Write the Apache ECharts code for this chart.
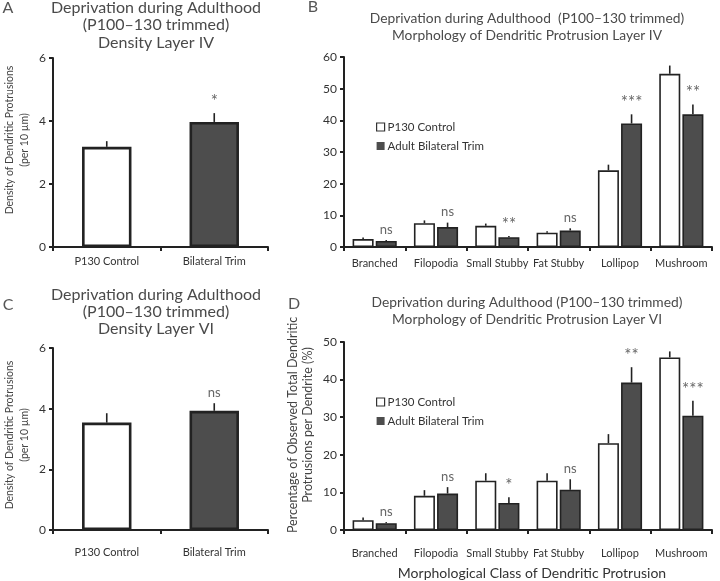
<!DOCTYPE html>
<html>
<head>
<meta charset="utf-8">
<script src="https://cdn.jsdelivr.net/npm/echarts@6/dist/echarts.min.js"></script>
<style>
html,body{margin:0;padding:0;background:#fff;}
#c{width:720px;height:581px;}
</style>
</head>
<body>
<div id="c"></div>
<script>
// ---------- data ----------
const densityCats = ['P130 Control', 'Bilateral Trim'];
const densityIV = [3.18, 3.97];
const densityIVErr = [0.18, 0.28];
const sigDensityIV = ['', '*'];
const densityVI = [3.54, 3.93];
const densityVIErr = [0.31, 0.25];
const sigDensityVI = ['', 'ns'];

const morphCats = ['Branched', 'Filopodia', 'Small Stubby', 'Fat Stubby', 'Lollipop', 'Mushroom'];
const ctrlIV = [2.5, 7.5, 6.7, 4.5, 24.2, 54.7];
const ctrlIVErr = [0.5, 0.9, 0.7, 0.5, 1.8, 2.6];
const trimIV = [1.9, 6.3, 3.1, 5.2, 39.0, 41.9];
const trimIVErr = [0.3, 1.4, 0.4, 0.7, 2.9, 3.1];
const sigIV = ['ns', 'ns', '**', 'ns', '***', '**'];

const ctrlVI = [2.6, 9.1, 13.1, 13.1, 23.1, 45.9];
const ctrlVIErr = [0.7, 1.5, 2.0, 2.0, 2.4, 1.6];
const trimVI = [1.8, 9.7, 7.2, 10.7, 39.2, 30.4];
const trimVIErr = [0.3, 1.7, 1.5, 2.8, 4.1, 4.0];
const sigVI = ['ns', 'ns', '*', 'ns', '**', '***'];

const densityTicks = {min: 0, max: 6, interval: 2};
const morphIVTicks = {min: 0, max: 60, interval: 10};
const morphVITicks = {min: 0, max: 50, interval: 10};

// ---------- styles ----------
const FONT = 'Lato, "Open Sans", sans-serif';
const DARK = '#4d4d4d';
const LINE = '#222';
const TITLE_C = '#4a4a4a';

const chart = echarts.init(document.getElementById('c'), null, {renderer: 'canvas'});

function xAx(gridIndex, data, margin) {
  return {
    type: 'category', gridIndex, data,
    axisLine: {show: true, lineStyle: {color: LINE, width: 2}},
    axisTick: {show: true, length: 4, lineStyle: {color: LINE, width: 2}},
    axisLabel: {fontFamily: FONT, fontSize: 11, color: '#333', margin, interval: 0},
    splitLine: {show: false}
  };
}
function yAx(gridIndex, t) {
  return {
    type: 'value', gridIndex, min: t.min, max: t.max, interval: t.interval,
    axisLine: {show: true, lineStyle: {color: LINE, width: 2}},
    axisTick: {show: true, length: 4, lineStyle: {color: LINE, width: 2}},
    axisLabel: {fontFamily: FONT, fontSize: 12, color: '#333', margin: 7},
    splitLine: {show: false}
  };
}

const GROUP_CAT_GAP = 0.28, GROUP_BAR_GAP = 0.10;
const groupBarFrac = (1 - GROUP_CAT_GAP) / (2 + GROUP_BAR_GAP);

function errSeries(name, idx, values, errs, sigs, offset, barFrac, sigSize) {
  return {
    type: 'custom', name, xAxisIndex: idx, yAxisIndex: idx, z: 5,
    encode: {x: 0, y: 1},
    data: values.map((v, i) => [i, v, errs[i]]),
    renderItem: function (params, api) {
      const i = api.value(0), v = api.value(1), e = api.value(2);
      const sig = sigs[params.dataIndex];
      const band = api.size([1, 0])[0];
      const dx = offset * band * barFrac;
      const p0 = api.coord([i, v]);
      const p1 = api.coord([i, v + e]);
      const children = [{
        type: 'line',
        shape: {x1: p0[0] + dx, y1: p0[1], x2: p1[0] + dx, y2: p1[1]},
        style: {stroke: LINE, lineWidth: 1.6}
      }];
      if (sig) {
        const isStar = sig.indexOf('*') >= 0;
        children.push({
          type: 'text',
          x: p1[0] + dx, y: p1[1] - (isStar ? 3 : 4),
          style: {text: sig, fill: '#666', font: (isStar ? sigSize + 4 : sigSize) + 'px ' + FONT,
                  align: 'center', verticalAlign: 'bottom'}
        });
      }
      return {type: 'group', children};
    }
  };
}

function barSeries(name, idx, values, color, bw, extra) {
  return Object.assign({
    type: 'bar', name, xAxisIndex: idx, yAxisIndex: idx, data: values,
    itemStyle: {color, borderColor: LINE, borderWidth: bw}
  }, extra || {});
}

const legendData = [
  {name: 'P130 Control', itemStyle: {color: '#fff', borderColor: '#333', borderWidth: 1.2}},
  {name: 'Adult Bilateral Trim', itemStyle: {color: DARK, borderColor: DARK, borderWidth: 0}}
];
function legendAt(top) {
  return {
    data: legendData, orient: 'vertical', left: 371, top, itemWidth: 8, itemHeight: 8,
    itemGap: 7, icon: 'rect', selectedMode: false,
    textStyle: {fontFamily: FONT, fontSize: 11.5, color: '#333', padding: [0, 0, 0, -2]}
  };
}

function gtext(x, y, text, size, color, opts) {
  return Object.assign({
    type: 'text', x, y,
    style: {text, fill: color, font: size + 'px ' + FONT, align: 'center', verticalAlign: 'middle',
            lineHeight: (opts && opts.lh) || size * 1.3}
  }, (opts && opts.el) || {});
}

const groupOpts = {barCategoryGap: '28%', barGap: '10%'};

const option = {
  animation: false,
  backgroundColor: '#fff',
  grid: [
    {left: 53, top: 58, width: 215, height: 189},
    {left: 344, top: 57, width: 368, height: 190},
    {left: 53, top: 348, width: 215, height: 182},
    {left: 344, top: 342, width: 368, height: 188}
  ],
  xAxis: [
    xAx(0, densityCats, 9),
    xAx(1, morphCats, 11),
    xAx(2, densityCats, 17),
    xAx(3, morphCats, 18)
  ],
  yAxis: [
    yAx(0, densityTicks),
    yAx(1, morphIVTicks),
    yAx(2, densityTicks),
    yAx(3, morphVITicks)
  ],
  legend: [legendAt(116), legendAt(391)],
  series: [
    barSeries('Density IV', 0, densityIV, p => p.dataIndex === 0 ? '#fff' : DARK, 2.6, {barWidth: '46%'}),
    errSeries('Density IV err', 0, densityIV, densityIVErr, sigDensityIV, 0, 0, 13),
    barSeries('P130 Control', 1, ctrlIV, '#fff', 1.6, groupOpts),
    barSeries('Adult Bilateral Trim', 1, trimIV, DARK, 1.6, groupOpts),
    errSeries('ctrl IV err', 1, ctrlIV, ctrlIVErr, ['', '', '', '', '', ''], -0.55, groupBarFrac, 13),
    errSeries('trim IV err', 1, trimIV, trimIVErr, sigIV, 0.55, groupBarFrac, 13),
    barSeries('Density VI', 2, densityVI, p => p.dataIndex === 0 ? '#fff' : DARK, 2.6, {barWidth: '46%'}),
    errSeries('Density VI err', 2, densityVI, densityVIErr, sigDensityVI, 0, 0, 13),
    barSeries('P130 Control', 3, ctrlVI, '#fff', 1.6, groupOpts),
    barSeries('Adult Bilateral Trim', 3, trimVI, DARK, 1.6, groupOpts),
    errSeries('ctrl VI err', 3, ctrlVI, ctrlVIErr, ['', '', '', '', '', ''], -0.55, groupBarFrac, 13),
    errSeries('trim VI err', 3, trimVI, trimVIErr, sigVI, 0.55, groupBarFrac, 13)
  ],
  graphic: [
    // panel letters
    gtext(8, 8, 'A', 16, '#555'),
    gtext(313, 7, 'B', 16, '#555'),
    gtext(8, 305, 'C', 16, '#555'),
    gtext(294, 304, 'D', 16, '#555'),
    // titles
    gtext(156, 25, 'Deprivation during Adulthood\n(P100–130 trimmed)\nDensity Layer IV', 16, TITLE_C, {lh: 17.5}),
    gtext(527, 27, 'Deprivation during Adulthood  (P100–130 trimmed)\nMorphology of Dendritic Protrusion Layer IV', 13.8, TITLE_C, {lh: 17}),
    gtext(156, 312, 'Deprivation during Adulthood\n(P100–130 trimmed)\nDensity Layer VI', 16, TITLE_C, {lh: 17}),
    gtext(527, 311, 'Deprivation during Adulthood (P100–130 trimmed)\nMorphology of Dendritic Protrusion Layer VI', 13.8, TITLE_C, {lh: 17}),
    // y axis names
    gtext(17, 140, 'Density of Dendritic Protrusions\n(per 10 µm)', 10.5, '#444', {lh: 15, el: {rotation: Math.PI / 2}}),
    gtext(17, 435, 'Density of Dendritic Protrusions\n(per 10 µm)', 10.5, '#444', {lh: 15, el: {rotation: Math.PI / 2}}),
    gtext(300, 425, 'Percentage of Observed Total Dendritic\nProtrusions per Dendrite (%)', 12.5, '#444', {lh: 15, el: {rotation: Math.PI / 2}}),
    // x axis name
    gtext(532, 573, 'Morphological Class of Dendritic Protrusion', 14, '#333')
  ]
};
chart.setOption(option);
</script>
</body>
</html>
